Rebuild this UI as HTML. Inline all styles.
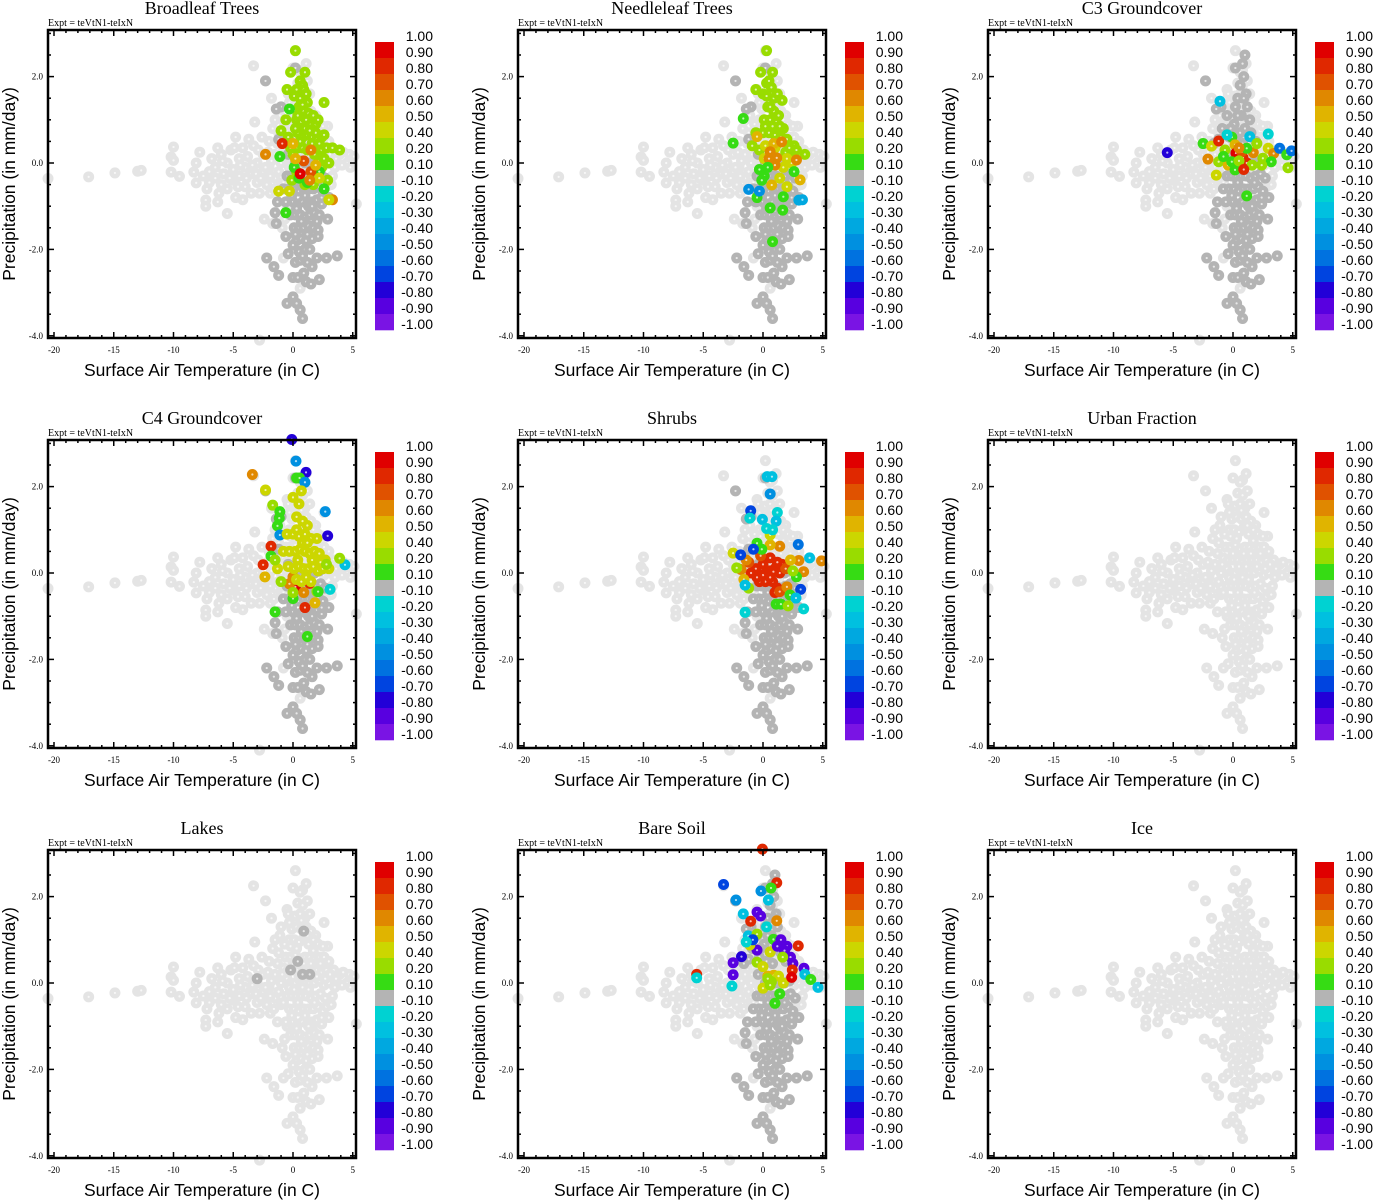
<!DOCTYPE html>
<html><head><meta charset="utf-8"><style>
html,body{margin:0;padding:0;background:#fff;width:1373px;height:1200px;overflow:hidden}
svg{display:block}
.ser{font-family:"Liberation Serif",serif}
.san{font-family:"Liberation Sans",sans-serif}
</style></head><body>
<svg id="fig" width="1373" height="1200" viewBox="0 0 1373 1200" xmlns="http://www.w3.org/2000/svg"></svg>
<script>
// ---------- data ----------
const panelTitles = ["Broadleaf Trees","Needleleaf Trees","C3 Groundcover","C4 Groundcover","Shrubs","Urban Fraction","Lakes","Bare Soil","Ice"];
const xTickValues = [-20,-15,-10,-5,0,5];
const xTickLabels = ["-20","-15","-10","-5","0","5"];
const yTickValues = [2,0,-2,-4];
const yTickLabels = ["2.0","0.0","-2.0","-4.0"];
const cbarLabels = ["1.00","0.90","0.80","0.70","0.60","0.50","0.40","0.20","0.10","-0.10","-0.20","-0.30","-0.40","-0.50","-0.60","-0.70","-0.80","-0.90","-1.00"];
const cbarColors = ["#e00000","#e02800","#e05200","#e08800","#e0b400","#ccd600","#99dc00","#36dc14","#b4b4b4","#00d2d2","#00c0e0","#00a8e0","#0090e0","#0072e0","#0044e0","#2200d8","#5800e0","#7a14e4"];
const cbarBounds = [1,0.9,0.8,0.7,0.6,0.5,0.4,0.2,0.1,-0.1,-0.2,-0.3,-0.4,-0.5,-0.6,-0.7,-0.8,-0.9,-1.0];

// background cloud (all panels): [temperature, precipitation]
const basePoints = [[-20.5,-0.36],[-17.1,-0.32],[-14.9,-0.23],[-13,-0.19],[-12.7,-0.17],[-10,0.37],[-10.2,0.14],[-10,0.06],[-10.2,-0.21],[-9.5,-0.31],[-8.3,-0.21],[-8.1,0],[-7.8,0.25],[-8.1,-0.46],[-7.3,-0.86],[-7.3,-1.0],[-6.3,-0.9],[-5.5,-1.17],
[-7.5,-0.3],[-7,-0.2],[-7,-0.45],[-6.5,-0.1],[-6.5,-0.35],[-6.3,0.35],[-6,0.2],[-6,-0.5],[-5.8,-0.25],[-5.5,0],[-5.5,-0.6],[-5.2,0.3],[-5,-0.15],[-5,-0.4],[-4.8,-0.8],[-4.8,0.6],[-4.5,0.1],[-4.5,-0.3],[-4.2,-0.85],[-4.2,0.35],[-4,-0.1],[-4,-0.55],[-3.8,0.15],[-3.5,-0.25],[-3.5,-0.7],[-3.3,0.4],[-3.2,0.95],[-3.3,2.25],[-3,0],[-3,-0.45],[-2.8,-0.7],[-2.5,0.2],[-2.5,-0.2],[-2.4,-1.3],[-2.3,1.9],[-2.2,-2.2],[-2.2,-0.5],[-2,0.5],[-2,-0.1],[-1.9,-0.7],[-1.8,1.5],[-1.7,-1.4],[-1.6,-2.4],[-1.5,0.2],[-1.5,-0.35],[-1.5,1.0],[-1.3,-0.9],[-1.2,-2.6],[-1.2,0.7],[-1,0],[-1,-0.5],[-1,1.3],[-0.9,-1.5],[-0.8,-2.2],[-0.8,0.35],[-0.5,-3.25],[-0.5,-1.0],[-0.5,1.7],[-0.5,0.1],[-0.5,-0.3],
[0.2,2.6],[0,2.2],[0.8,2.15],[1.1,2.3],[0.6,2.1],[0.4,1.85],[0.8,1.8],[1.2,1.9],[-0.4,1.6],[0.2,1.55],[0.6,1.6],[1,1.5],[1.4,1.6],[2.6,1.4],[-0.1,1.25],[0.3,1.3],[0.7,1.25],[1.1,1.3],[1.5,1.2],[1.9,1.1],[-0.3,1.0],[0.1,1.0],[0.5,0.95],[0.9,1.05],[1.3,0.9],[1.7,1.0],[2.1,0.9],[2.9,0.85],[-0.6,0.6],[-0.2,0.6],[0.2,0.65],[0.6,0.55],[1,0.6],[1.4,0.6],[1.8,0.55],[2.2,0.6],[2.6,0.6],[3,0.5],[-0.4,0.3],[0,0.3],[0.4,0.3],[0.8,0.25],[1.2,0.3],[1.6,0.3],[2,0.3],[2.4,0.25],[2.8,0.3],[3.4,0.3],[3.9,0.2],[4.7,0.2],[5.1,0.15],[-0.2,0],[0.2,0],[0.6,0.05],[1,0],[1.4,0],[1.8,0],[2.2,0.05],[2.6,-0.05],[3,0],[3.5,-0.1],[4.5,0],[4.8,-0.1],[-0.5,-0.3],[-0.1,-0.3],[0.3,-0.3],[0.7,-0.3],[1.1,-0.3],[1.5,-0.35],[1.9,-0.3],[2.3,-0.25],[2.7,-0.35],[3.3,-0.3],[-0.3,-0.6],[0.1,-0.6],[0.5,-0.65],[0.9,-0.6],[1.3,-0.6],[1.7,-0.6],[2.1,-0.55],[2.5,-0.65],[3,-0.8],[5.3,-0.95],[-0.6,-0.9],[0,-0.9],[0.4,-0.95],[0.8,-0.9],[1.2,-0.95],[1.6,-0.9],[2,-0.85],[2.4,-0.95],[-0.2,-1.2],[0.2,-1.2],[0.6,-1.2],[1,-1.25],[1.4,-1.2],[1.8,-1.15],[2.2,-1.2],[2.9,-1.3],[0.1,-1.5],[0.5,-1.5],[0.9,-1.5],[1.3,-1.45],[1.7,-1.5],[2.1,-1.55],[-0.6,-1.7],[0.3,-1.8],[0.7,-1.75],[1.1,-1.8],[1.6,-1.75],[2.1,-1.7],[0,-1.9],[0.5,-2.05],[1,-2],[1.4,-2.0],[-0.4,-2.1],[0.2,-2.3],[0.6,-2.25],[1.2,-2.3],[2,-2.2],[2.8,-2.2],[3.7,-2.15],[0,-2.65],[0.4,-2.65],[0.9,-2.55],[1.1,-2.75],[1.5,-2.8],[2.2,-2.7],[0,-3.1],[0.3,-3.25],[0.6,-3.4],[0.8,-3.6],[-2.8,-4.1]];
// additional cloud points filling the dense regions
const extraBase = [[-7.2,-0.6],[-6.8,0.1],[-6.2,-0.7],[-5.9,0.05],[-5.3,-0.35],[-4.9,0.35],[-4.6,-0.55],[-4.4,-0.05],[-3.9,-0.35],[-3.7,0.55],[-3.4,-0.05],[-3.1,-0.25],[-2.9,0.3],[-2.7,-0.35],[-2.6,0.6],[-2.3,-0.1],[-2.1,0.25],[-1.9,-0.3],[-1.8,0.05],[-1.7,0.8],[-1.6,-0.6],[-1.3,0.45],[-1.2,-0.2],[-1.1,1.1],[-0.9,0.2],[-0.8,-0.45],[-0.7,0.9],[-0.7,-1.3],[-0.3,-0.1],[-0.3,1.4],[-0.2,0.85],[0,0.45],[0.1,-0.15],[0.3,0.8],[0.4,-0.45],[0.5,0.15],[0.7,1.45],[0.8,-0.1],[0.9,0.45],[1.0,-0.75],[1.1,0.15],[1.2,1.1],[1.3,-0.15],[1.5,0.45],[1.6,-1.0],[1.7,0.75],[1.8,-0.45],[2.0,0.15],[2.0,-1.35],[2.3,0.45],[2.4,-0.8],[2.5,0.85],[2.7,0.1],[2.8,-0.55],[3.1,0.2],[3.2,-0.5],[3.6,0.1],[4.1,-0.05],[4.2,0.25],[0.3,-1.05],[0.7,-1.35],[1.2,-1.65],[0.2,-1.65],[0.8,-2.15],[1.6,-2.4],[0.6,-2.9],[1.3,-1.0],[-0.1,-0.75]];

// darker grey core (values between -0.1 and 0.1)
const coreGray = [[-2.3,1.9],[-1,1.3],[-1.4,1.25],[0.2,2.2],[-1.2,0.55],[-0.4,0.2],[-0.5,-0.3],[-0.1,-0.3],[0.3,-0.3],[0.7,-0.3],[1.1,-0.3],[1.5,-0.35],[1.9,-0.3],[2.3,-0.25],[2.7,-0.35],[-0.8,-0.6],[-0.3,-0.6],[0.1,-0.6],[0.5,-0.65],[0.9,-0.6],[1.3,-0.6],[1.7,-0.6],[2.1,-0.55],[2.5,-0.65],[3,-0.8],[-1.3,-0.9],[-0.6,-0.9],[0,-0.9],[0.4,-0.95],[0.8,-0.9],[1.2,-0.95],[1.6,-0.9],[2,-0.85],[2.4,-0.95],[-1.5,-1.15],[-0.2,-1.2],[0.2,-1.2],[0.6,-1.2],[1,-1.25],[1.4,-1.2],[1.8,-1.15],[2.2,-1.2],[2.9,-1.3],[-1.4,-1.4],[0.1,-1.5],[0.5,-1.5],[0.9,-1.5],[1.3,-1.45],[1.7,-1.5],[2.1,-1.55],[-0.6,-1.7],[0.3,-1.8],[0.7,-1.75],[1.1,-1.8],[1.6,-1.75],[2.1,-1.7],[0,-1.9],[0.5,-2.05],[1,-2],[1.4,-2.0],[-0.4,-2.1],[0.2,-2.3],[0.6,-2.25],[1.2,-2.3],[2,-2.2],[2.8,-2.2],[3.7,-2.15],[-2.2,-2.2],[-1.6,-2.4],[-1.2,-2.6],[0,-2.65],[0.4,-2.65],[0.9,-2.55],[1.1,-2.75],[1.5,-2.8],[2.2,-2.7],[0,-3.1],[0.3,-3.25],[-0.5,-3.25],[0.6,-3.4],[0.8,-3.6],[0.2,0],[0.6,0.05],[1,0],[1.4,0],[1.8,0],[2.2,0.05],[0.3,-1.05],[0.7,-1.35],[1.2,-1.65],[0.2,-1.65],[0.8,-2.15],[1.6,-2.4],[1.3,-1.0],[-0.1,-0.75],[1.0,-0.75],[1.8,-0.45],[0.4,-0.45],[2.4,-0.8],[1.6,-1.0],[2.0,-1.35]];
const upperGray = [[0.8,2.3],[0.9,2.0],[0.6,1.8],[0.4,1.5],[0.2,1.3],[-0.5,1.1],[1.1,1.6],[-0.9,0.8],[0.7,1.1],[1.2,1.3],[0.1,0.9],[0.6,0.7],[1.0,0.8],[1.5,0.7],[-0.3,0.6],[0.3,0.5],[1.9,0.5],[-1.6,0.45],[1.0,2.5],[0.9,1.5],[0.4,1.1],[1.4,1.0],[-0.2,0.8],[0.8,0.45]];
const lakesGray = [[0.8,0.2],[1.4,0.2],[0.4,0.5],[-0.2,0.3],[0.9,1.2],[-3,0.1]];

// coloured overlay: [temperature, precipitation, value]
const broadleafPts = [[0.2,2.6,0.2],[-0.2,2.1,0.2],[1,2.1,0.2],[0.6,1.9,0.2],[0.8,1.8,0.2],[0.9,1.7,0.2],[-0.5,1.7,0.2],[0.1,1.55,0.2],[1,1.45,0.2],[2.6,1.4,0.2],[0.5,1.3,0.2],[0.9,1.2,0.2],[1.3,1.15,0.2],[1.7,1.1,0.2],[-0.6,1.0,0.2],[0.3,1.0,0.2],[0.7,0.95,0.2],[1.1,1.0,0.2],[1.5,0.9,0.2],[1.9,0.9,0.2],[2.1,1.0,0.2],[-1,0.75,0.2],[-0.4,0.6,0.2],[0.4,0.7,0.2],[0.8,0.6,0.2],[1.2,0.65,0.2],[1.6,0.6,0.2],[2,0.55,0.2],[2.4,0.6,0.2],[2.6,0.65,0.2],[-0.2,0.35,0.2],[0.4,0.35,0.2],[0.8,0.35,0.2],[1.2,0.3,0.2],[2,0.3,0.2],[2.4,0.3,0.2],[2.8,0.35,0.2],[3.3,0.35,0.2],[3.9,0.3,0.2],[2.2,0.05,0.2],[2.6,0.1,0.2],[3,0,0.2],[-0.1,-0.4,0.2],[1,-0.5,0.2],[1.7,-0.5,0.2],[2.9,-0.4,0.2],[0.3,-0.2,0.2],[1.9,0.7,0.2],[0.6,1.5,0.2],[1.2,1.4,0.2],[0.4,1.1,0.2],[0.8,1.35,0.2],[1.0,0.8,0.2],[1.4,0.75,0.2],[0.2,0.8,0.2],[1.6,0.45,0.2],[2.2,0.45,0.2],[0,0.2,0.2],[1.8,0.2,0.2],[2.4,-0.1,0.2],[0.6,0.5,0.2],[1.1,1.6,0.2],[0.3,1.7,0.2],
[-0.3,1.25,0.1],[-1.1,0.15,0.1],[-0.6,-1.15,0.1],[2.6,-0.6,0.1],[0.5,-0.35,0.1],[0.1,-0.1,0.1],[1.8,-0.25,0.1],[1.2,-0.45,0.1],[2.2,-0.2,0.1],
[-0.9,0.45,0.8],[-2.3,0.2,0.6],[0.6,-0.25,0.9],[1.5,0.3,0.6],[0.9,0.05,0.7],[1.5,-0.2,0.7],[1.9,-0.05,0.5],[3.3,-0.85,0.6],[3,-0.85,0.4],[-1.2,-0.65,0.4],[-0.3,-0.65,0.4],[0,0.45,0.5],[0.2,0.1,0.5],[2.2,-0.35,0.4],[1.4,-0.4,0.6]];
const needleleafPts = [[0.3,2.6,0.2],[-0.2,2.1,0.2],[0.8,2.1,0.2],[0.3,1.85,0.2],[0.7,1.75,0.2],[-0.6,1.7,0.2],[0,1.6,0.2],[0.9,1.5,0.2],[1.6,1.45,0.2],[0.4,1.3,0.2],[0.9,1.2,0.2],[1.3,1.1,0.2],[0.1,1.0,0.2],[0.6,1.0,0.2],[1.1,0.95,0.2],[1.7,0.8,0.2],[-0.6,0.7,0.2],[0,0.7,0.2],[0.5,0.7,0.2],[1,0.65,0.2],[1.5,0.6,0.2],[2,0.55,0.2],[2.6,0.4,0.2],[3.5,0.2,0.2],[-0.9,0.4,0.2],[-0.3,0.3,0.2],[1.9,0.25,0.2],[2.3,0.15,0.2],[0.3,1.55,0.2],[1.2,1.6,0.2],[2.2,0.35,0.2],[1.4,0.85,0.2],[0.6,1.3,0.2],[0.2,0.85,0.2],[0.8,0.85,0.2],[1.2,0.45,0.2],[2.8,0.3,0.2],[0.5,1.9,0.2],
[0.2,0.4,0.4],[1,0.35,0.4],[1.7,-0.1,0.4],[1.4,-0.35,0.4],[2,-0.55,0.4],[0.9,0.45,0.5],[2.4,0.0,0.4],[2.0,0.1,0.4],[0.1,0.1,0.4],
[0.6,0.26,0.6],[1.15,0.12,0.6],[1.56,0.49,0.6],[2.8,0.07,0.6],[1.0,-0.05,0.6],[0.5,0.1,0.6],[3.1,-0.39,0.5],[0.73,-0.51,0.5],[-0.5,0.61,0.5],
[-1.65,1.03,0.1],[-2.5,0.46,0.1],[-0.5,-0.8,0.1],[0.6,-1.04,0.1],[1.65,-1.09,0.1],[0.8,-1.82,0.1],[-0.3,-0.15,0.1],[0.1,-0.3,0.1],[0.4,-0.1,0.1],[-0.1,-0.4,0.1],[1.7,-0.78,0.1],[2.6,-0.2,0.1],
[-1.2,-0.61,-0.5],[-0.3,-0.65,-0.5],[3.0,-0.86,-0.4],[3.3,-0.85,-0.4]];
const c3Pts = [[-1.09,1.43,-0.3],[-5.5,0.24,-0.8],[-2.5,0.45,0.1],[-1.8,0.39,0.4],[-1.2,0.51,0.8],[-2.1,0.09,0.6],[-1.4,-0.28,0.4],[-0.1,0.6,0.1],[0.17,0.42,0.5],[0.25,0.23,0.9],[0.84,0.12,0.8],[1.15,0,0.8],[0.73,0.26,0.7],[-0.67,0.3,0.2],[-1.2,0.03,0.2],[-0.4,-0.05,0.5],[0.17,-0.16,0.1],[1.7,0.24,0.6],[2.5,0.11,0.2],[2.95,0.34,0.4],[3.4,0.22,0.6],[3.9,0.34,-0.6],[4.5,0.19,0.1],[4.9,0.28,-0.6],[4.6,-0.11,0.3],[3.2,0.03,0.1],[2.4,-0.05,0.2],[1.15,-0.76,0.1],[2.95,0.67,-0.2],[-0.5,0.65,-0.2],[1.4,0.61,-0.3],[1.15,0.34,0.1],[-0.1,0.03,0.1],[0.5,0.05,0.2],[1.6,-0.05,0.3],[-0.8,0.15,0.1],[2,0.45,0.2],[0.9,-0.15,0.8],[0.5,0.35,0.6]];
const c4Pts = [[-0.1,3.09,-0.8],[0.25,2.59,-0.5],[1.09,2.33,-0.8],[-3.4,2.28,0.6],[-2.3,1.92,0.4],[0.3,2.2,0.1],[0.55,2.2,0.1],[1,2.1,-0.5],[2.7,1.42,-0.5],[2.9,0.86,-0.8],[-1.7,1.57,0.2],[-1.1,1.42,0.1],[-1.15,1.27,0.1],[-1.3,1.09,0.1],[-1.84,0.62,0.8],[-1.84,0.39,0.1],[-2.5,0.19,0.8],[-2.35,-0.09,0.5],[0.2,-0.32,0.9],[1.4,-0.24,0.8],[-0.3,-0.25,0.6],[0,-0.09,0.6],[2,-0.43,0.2],[1.84,-0.69,0.5],[1,-0.8,0.8],[0,-0.59,0.1],[-1.5,-0.9,0.1],[1.2,-1.47,0.1],[3.1,-0.38,-0.2],[4.35,0.19,-0.3],[3.9,0.34,0.2],[2.1,-0.43,0.1],[-1.1,0.88,-0.5],
[0.7,1.9,0.4],[0,1.75,0.4],[0.5,1.6,0.4],[0.3,1.3,0.4],[0.8,1.2,0.4],[1.2,1.1,0.4],[-0.5,0.9,0.4],[0,0.9,0.4],[0.5,0.85,0.4],[1,0.9,0.4],[1.5,0.8,0.4],[2,0.8,0.4],[-0.8,0.5,0.4],[-0.3,0.5,0.4],[0.2,0.5,0.4],[0.6,0.55,0.4],[1,0.5,0.4],[1.4,0.45,0.4],[1.8,0.5,0.4],[2.2,0.45,0.4],[2.7,0.3,0.4],[-1.3,0.1,0.4],[-0.4,0.15,0.4],[0.1,0.1,0.4],[0.5,0.15,0.4],[0.9,0.1,0.4],[1.3,0.1,0.4],[1.7,0.15,0.4],[2.1,0.05,0.4],[2.5,0.1,0.4],[3,0.1,0.4],[0.3,-0.15,0.4],[0.7,-0.2,0.4],[1.1,-0.1,0.4],[1.5,-0.2,0.4],[0.3,1.0,0.4],[0.8,0.7,0.4],[1.2,0.7,0.4],[1.6,0.3,0.4],[2.3,0.25,0.4],[0.4,0.3,0.4],[-1.5,0.3,0.2],[0,-0.45,0.2],[2.8,0.2,0.2],[-1,-0.2,0.2],[0.9,-0.45,0.6]];
const shrubPts = [[-0.6,0.1,0.8],[0,0.2,0.8],[0.5,0.05,0.8],[1,0.1,0.8],[1.4,0,0.8],[0.2,-0.2,0.8],[0.8,-0.2,0.8],[-0.3,-0.2,0.8],[1.2,-0.35,0.8],[0.6,0.35,0.8],[1.6,0.2,0.8],[-1,0,0.8],[0.3,0,0.8],[1,-0.45,0.8],[0.87,0.03,0.8],[-0.2,0.4,0.7],[-1.2,0.25,0.7],[1.9,0.1,0.7],[1.4,-0.43,0.7],[0,-0.05,0.8],[0.6,-0.1,0.8],[1.2,0.25,0.8],[-0.5,-0.1,0.8],
[-1.4,0.3,0.6],[3,0.29,0.6],[4.9,0.28,0.6],[3.4,0.03,0.6],[2,-0.32,0.6],[-1.84,0.08,0.6],[1.4,0.62,0.6],[0.6,0.65,0.5],[-2.5,0.46,0.4],[0.6,0.88,0.4],[-1.6,-0.15,0.5],[2.3,0.3,0.5],
[2.8,-0.09,0.1],[2.26,-0.51,0.1],[1.1,-0.72,0.1],[1.5,-0.72,0.1],[2.1,-0.76,0.2],[2.5,0.05,0.2],[-2.2,0.12,0.2],[-0.5,0.69,0.1],[-1.2,-0.35,0.2],[-0.1,0.55,0.1],
[0.35,2.23,-0.3],[0.75,2.23,-0.3],[0.6,1.83,-0.5],[-1.03,1.44,-0.7],[-1.1,1.27,-0.2],[-0.05,1.24,-0.3],[1.2,1.4,-0.2],[1.1,1.2,-0.3],[0.3,1.03,-0.2],[0.8,1.0,-0.2],[-1.87,0.42,-0.7],[2.95,0.66,-0.6],[3.9,0.35,-0.3],[3.15,-0.38,-0.7],[2.76,-0.58,-0.3],[3.4,-0.83,-0.2],[-1.5,-0.91,-0.2],[-1.5,-0.28,-0.3],[-0.8,0.55,-0.7]];
const bareSoilPts = [[-0.05,3.1,0.8],[1.15,2.32,0.8],[-3.3,2.28,-0.7],[-0.17,2.13,-0.5],[0.67,2.2,0.1],[-2.26,1.92,-0.5],[0.45,1.92,-0.3],[-1.65,1.6,-0.3],[-0.5,1.64,-0.9],[-0.2,1.55,-0.9],[-1.03,1.43,0.8],[1.15,1.44,0.6],[-1.23,1.09,-0.3],[-0.5,1.13,0.3],[0.87,1.01,0.1],[-0.5,0.76,-0.9],[-1.1,0.88,0.4],[0.6,0.72,0.4],[1.5,1.0,-0.9],[2,0.85,-0.9],[1.8,0.75,-0.9],[2.3,0.6,-0.9],[2.5,0.45,-0.9],[1.2,0.85,-0.9],[2.95,0.86,0.8],[1.65,0.6,0.2],[-1.8,0.61,-0.8],[-2.5,0.47,-0.9],[-2.5,0.19,-0.9],[-0.5,0.48,0.3],[0,0.38,0.4],[0.4,0.16,0.5],[0.9,0.18,0.5],[1.3,0.16,0.4],[0.7,0.03,0.3],[1.7,0,0.4],[0,-0.12,0.4],[1.4,-0.25,0.1],[1,-0.47,0.1],[2.45,0.3,0.8],[2.4,0.13,0.9],[3.43,0.34,-0.9],[3.5,0.2,-0.3],[4,0.08,0.1],[4.6,-0.1,-0.3],[-5.55,0.2,0.8],[-5.55,0.12,-0.2],[-2.6,-0.07,-0.2],[0.3,1.3,-0.2],[-0.85,1.0,-0.7],[-1.4,0.95,-0.2],[0.4,0.1,0.3],[0.6,-0.05,0.3]];

const panelOverlays = [
  {gray:[coreGray], pts:broadleafPts},
  {gray:[coreGray], pts:needleleafPts},
  {gray:[coreGray,upperGray], pts:c3Pts},
  {gray:[coreGray], pts:c4Pts},
  {gray:[coreGray], pts:shrubPts},
  {gray:[], pts:[]},
  {gray:[lakesGray], pts:[]},
  {gray:[coreGray,upperGray], pts:bareSoilPts},
  {gray:[], pts:[]}
];

// ---------- drawing ----------
const NS = "http://www.w3.org/2000/svg";
const svg = document.getElementById("fig");
function mk(tag, attrs, parent){ const e=document.createElementNS(NS,tag); for(const k in attrs) e.setAttribute(k,attrs[k]); (parent||svg).appendChild(e); return e; }
const X0=48, X1=356, Y0=30, Y1=338;
function xScale(t){ return 293 + t*11.95; }
function yScale(p){ return 163 - p*43.2; }
function colorFor(v){
  for(let i=0;i<cbarColors.length;i++){ if(v<=cbarBounds[i] && v>=cbarBounds[i+1]) return cbarColors[i]; }
  return v>0?cbarColors[0]:cbarColors[cbarColors.length-1];
}
function dot(g,t,p,col){
  const c = mk("circle",{cx:xScale(t),cy:yScale(p),r:5.5,fill:col},g);
  
  
  mk("circle",{cx:xScale(t),cy:yScale(p),r:1.1,fill:"#fff","fill-opacity":0.7},g);
}
const slugs=["broadleaf","needleleaf","c3","c4","shrubs","urban","lakes","bare-soil","ice"];
panelTitles.forEach((title,idx)=>{
  const ox=(idx%3)*470, oy=Math.floor(idx/3)*410;
  const g=mk("g",{transform:`translate(${ox},${oy})`});
  
  
  const tt=mk("text",{x:202,y:14,"text-anchor":"middle","font-size":18,class:"ser"},g); tt.textContent=title;
  
  
  const ex=mk("text",{x:48,y:26,"font-size":10,class:"ser"},g); ex.textContent="Expt = teVtN1-teIxN";
  
  
  const pg=mk("g",{},g);
  
  
  basePoints.forEach(d=>dot(pg,d[0],d[1],"#e4e4e4"));
  extraBase.forEach(d=>dot(pg,d[0],d[1],"#e4e4e4"));
  panelOverlays[idx].gray.forEach(arr=>arr.forEach(d=>dot(pg,d[0],d[1],"#b4b4b4")));
  panelOverlays[idx].pts.forEach(d=>dot(pg,d[0],d[1],colorFor(d[2])));
  const fr=mk("rect",{x:X0,y:Y0,width:X1-X0,height:Y1-Y0,fill:"none",stroke:"#000","stroke-width":2.5},g);
  
  
  for(let t=-20;t<=5;t++){
    const L=(t%5===0)?6:3, x=xScale(t);
    mk("line",{x1:x,y1:Y1,x2:x,y2:Y1-L,stroke:"#000","stroke-width":1.5},g);
    mk("line",{x1:x,y1:Y0,x2:x,y2:Y0+L,stroke:"#000","stroke-width":1.5},g);
  }
  for(let p=-4;p<=3;p+=0.5){
    const L=(Math.abs(p%2)<1e-9)?6:3, y=yScale(p);
    mk("line",{x1:X0,y1:y,x2:X0+L,y2:y,stroke:"#000","stroke-width":1.5},g);
    mk("line",{x1:X1,y1:y,x2:X1-L,y2:y,stroke:"#000","stroke-width":1.5},g);
  }
  xTickValues.forEach((v,i)=>{
    const tx=mk("text",{x:xScale(v),y:353,"text-anchor":"middle","font-size":9,class:"ser"},g); tx.textContent=xTickLabels[i];
    
    
  });
  yTickValues.forEach((v,i)=>{
    const ty=mk("text",{x:43,y:yScale(v)+3,"text-anchor":"end","font-size":9,class:"ser"},g); ty.textContent=yTickLabels[i];
    
    
  });
  const xt=mk("text",{x:202,y:376,"text-anchor":"middle","font-size":17.5,class:"san"},g); xt.textContent="Surface Air Temperature (in C)";
  
  
  const yt=mk("text",{x:0,y:0,"text-anchor":"middle","font-size":17.5,class:"san",transform:"translate(15,184) rotate(-90)"},g); yt.textContent="Precipitation (in mm/day)";
  
  
  const cb=mk("g",{},g);
  
  
  cbarColors.forEach((c,i)=>{
    const r=mk("rect",{x:375,y:42+16*i,width:19,height:16.3,fill:c},cb);
    
    
  });
  cbarLabels.forEach((s,i)=>{
    const tl=mk("text",{x:433,y:41+16*i,"text-anchor":"end","font-size":14,class:"san"},cb); tl.textContent=s;
    
    
  });
});
</script>
</body></html>
